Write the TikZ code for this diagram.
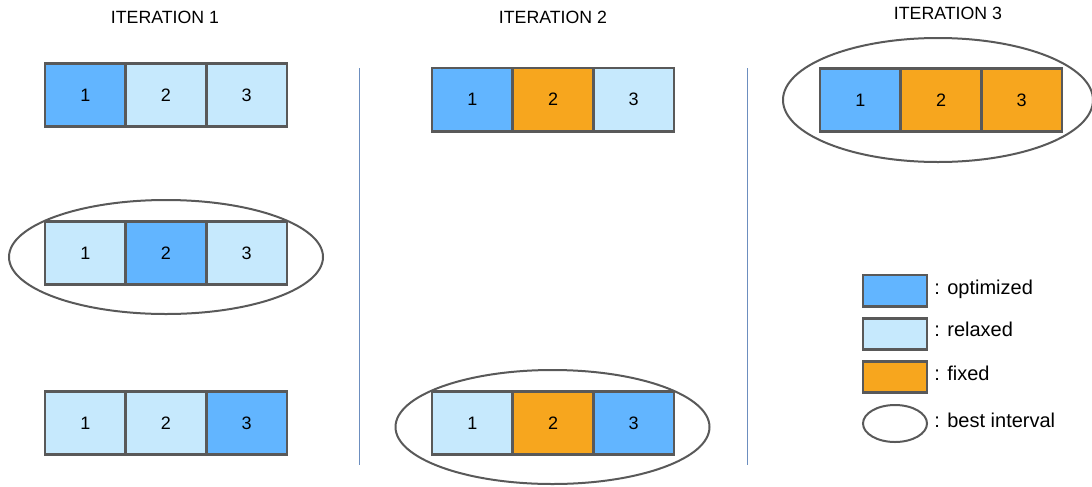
\documentclass[tikz,border=0pt]{standalone}
\usepackage{fontspec}
\setmainfont{Liberation Sans}
\usepackage{xcolor}
\usepackage{tikz}
\usetikzlibrary{positioning}

\definecolor{optblue}{HTML}{62B5FF}
\definecolor{relblue}{HTML}{C6E9FD}
\definecolor{fixorange}{HTML}{F7A61E}
\definecolor{edgegray}{HTML}{595959}
\definecolor{sepblue}{HTML}{6C8EBF}

\begin{document}
\begin{tikzpicture}[x=0.75pt,y=-0.75pt,
  cell/.style={draw=edgegray, line width=2.2pt, minimum width=60.5pt, minimum height=47.3pt,
    inner sep=0pt, outer sep=0pt, font=\fontsize{13.5}{16}\selectfont},
  opt/.style={cell, fill=optblue},
  rel/.style={cell, fill=relblue},
  fix/.style={cell, fill=fixorange},
  legbox/.style={draw=edgegray, line width=2.2pt, minimum width=48pt, minimum height=23.3pt,
    inner sep=0pt, outer sep=0pt},
  best/.style={draw=edgegray, line width=1.5pt},
  title/.style={font=\fontsize{13.3}{16}\selectfont},
  legtext/.style={font=\fontsize{15}{18}\selectfont},
  sep/.style={draw=sepblue, line width=1.3pt}]
\useasboundingbox (0,0) rectangle (1092,486);

% Iteration 1
\node[title] (t1) at (165,17) {ITERATION 1};
\node[opt, anchor=west] (a1) at (45,95) {1};
\node[rel, right=0pt of a1] (a2) {2};
\node[rel, right=0pt of a2] (a3) {3};
\draw[best] (166,257) ellipse (157 and 57);
\node[rel, anchor=west] (b1) at (45,253) {1};
\node[opt, right=0pt of b1] (b2) {2};
\node[rel, right=0pt of b2] (b3) {3};
\node[rel, anchor=west] (c1) at (45,423) {1};
\node[rel, right=0pt of c1] (c2) {2};
\node[opt, right=0pt of c2] (c3) {3};

% Separators
\coordinate (s1top) at (359.5,68);
\coordinate (s1bot) at (359.5,465);
\coordinate (s2top) at (747.5,68);
\coordinate (s2bot) at (747.5,465);
\draw[sep] (s1top) -- (s1bot);
\draw[sep] (s2top) -- (s2bot);

% Iteration 2
\node[title] (t2) at (553,17) {ITERATION 2};
\node[opt, anchor=west] (d1) at (432,99.5) {1};
\node[fix, right=0pt of d1] (d2) {2};
\node[rel, right=0pt of d2] (d3) {3};
\draw[best] (552.5,427) ellipse (157 and 57);
\node[rel, anchor=west] (e1) at (432,423) {1};
\node[fix, right=0pt of e1] (e2) {2};
\node[opt, right=0pt of e2] (e3) {3};

% Iteration 3
\node[title] (t3) at (948,13) {ITERATION 3};
\draw[best] (938,100) ellipse (155 and 62);
\node[opt, anchor=west] (f1) at (820,100) {1};
\node[fix, right=0pt of f1] (f2) {2};
\node[fix, right=0pt of f2] (f3) {3};

% Legend
\node[legbox, fill=optblue] (l1) at (895,290.5) {};
\node[legbox, fill=relblue] (l2) at (895,334) {};
\node[legbox, fill=fixorange] (l3) at (895,377) {};
\draw[best] (895,423.5) ellipse (32 and 18.5);
\coordinate (l4) at (927,423.5);
\node[legtext, right=2pt of l1, yshift=1pt] {: optimized};
\node[legtext, right=2pt of l2, yshift=3.5pt] {: relaxed};
\node[legtext, right=2pt of l3, yshift=3pt] {: fixed};
\node[legtext, right=2pt of l4, yshift=2.5pt] {: best interval};
\end{tikzpicture}
\end{document}
